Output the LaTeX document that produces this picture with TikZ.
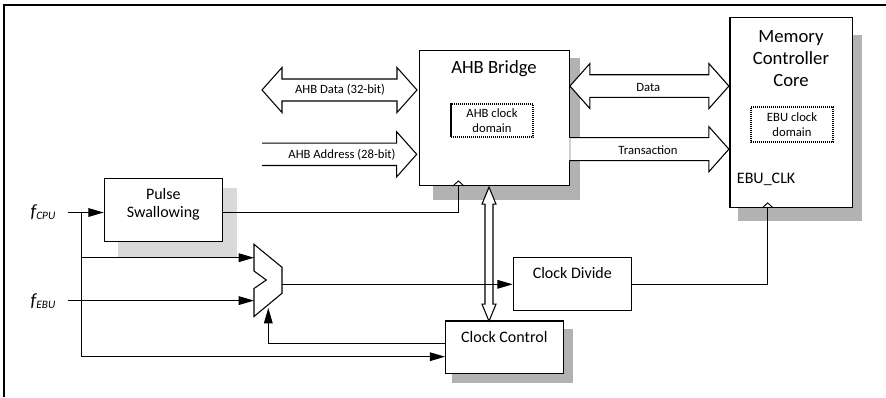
\documentclass[tikz,border=0pt]{standalone}
\usepackage{fontspec}
\setmainfont{Carlito}
\usepackage{tikz}
\usetikzlibrary{arrows.meta,calc,backgrounds}
\definecolor{shadowdark}{HTML}{B2B2B2}
\definecolor{shadowlite}{HTML}{D9D9D9}

\begin{document}
\begin{tikzpicture}[
  x=0.75pt, y=-0.75pt,
  blk/.style={draw, fill=white, line width=0.9pt, inner sep=0pt},
  dom/.style={draw, fill=white, line width=1.5pt, dash pattern=on 1pt off 0.5pt, minimum width=62pt, minimum height=25pt, align=center, font=\fontsize{9.5}{11.25}\selectfont, inner sep=0pt},
  ttl/.style={font=\fontsize{14}{16.5}\selectfont, align=center, inner sep=0pt},
  sub/.style={font=\fontsize{12}{13.2}\selectfont, align=center, inner sep=0pt},
  buslbl/.style={font=\fontsize{9.5}{11}\selectfont, inner sep=0pt},
  freq/.style={font=\fontsize{14}{16}\selectfont\itshape, inner sep=0pt},
  sig/.style={-{Triangle[length=11.5pt,width=6.5pt]}, line width=0.8pt},
  wire/.style={line width=0.8pt},
  hollow/.style={draw, fill=white, line width=0.8pt, line join=miter},
  clk/.style={line width=0.7pt},
]
\useasboundingbox (0,0) rectangle (886,397);
\draw[line width=1pt] (4,397) |- (886,5);

% blocks
\node[blk, minimum width=112.5pt, minimum height=101pt] (ahb) at (494.3,118) {};
\node[blk, minimum width=92pt, minimum height=142.5pt] (mem) at (791.3,112.3) {};
\node[blk, minimum width=88.8pt, minimum height=47.5pt] (pulse) at (163.5,210) {};
\node[blk, minimum width=88.8pt, minimum height=39.2pt] (div) at (572.5,284) {};
\node[blk, minimum width=88.2pt, minimum height=39.2pt] (ctrl) at (504.5,347.2) {};
\node[dom] (ahbdom) at (492,120.7) {AHB clock\\domain};
\node[dom, minimum height=25.8pt] (ebudom) at (792,124.5) {EBU clock\\domain};

\node[ttl] (ahbttl) at (494,69) {AHB Bridge};
\node[ttl] (memttl) at (791,58.5) {Memory\\Controller\\Core};
\node[sub, anchor=west] (ebuclk) at (736.7,179.3) {EBU\_CLK};
\node[sub] (pulsettl) at (163.3,204.5) {Pulse\\Swallowing};
\node[sub] (divttl) at (572.3,273.3) {Clock Divide};
\node[sub] (ctrlttl) at (504.3,336.7) {Clock Control};

\begin{scope}[on background layer]
\foreach \n/\dx/\dy/\ex/\ey/\c in {ahb/14/14/10/8/shadowdark, mem/9/13.4/9/18/shadowdark, pulse/14/14.3/14/10/shadowlite, ctrl/6.6/9/9.4/9/shadowdark}
  \fill[\c] ($(\n.south west)+(\dx,\dy)$) rectangle ($(\n.north east)+(\ex,\ey)$);
\end{scope}

% buses
\coordinate (dataend) at (262,90);
\coordinate (addrend) at (262,154.3);
\draw[hollow] (dataend) -- ++(20,-22.5) -- ++(0,11.5) -- ++(115,0) -- ++(0,-11.5) -- ++(20,22.5) -- ++(-20,22.5) -- ++(0,-11.5) -- ++(-115,0) -- ++(0,11.5) -- cycle;
\node[buslbl] (datalbl) at (340,90) {AHB Data (32-bit)};
\draw[hollow] ($(addrend)+(0,-11.2)$) -- ++(134.7,0) -- ++(0,-11.3) -- ++(20,22.5) -- ++(-20,22.5) -- ++(0,-11.3) -- ++(-134.7,0);
\node[buslbl] (addrlbl) at (342,154.3) {AHB Address (28-bit)};
\draw[hollow] ($(ahb.north east)+(0,36)$) -- ++(20,-22.5) -- ++(0,11.2) -- ++(119,0) -- ++(0,-11.2) -- ++(20,22.5) -- ++(-20,22.5) -- ++(0,-11.2) -- ++(-119,0) -- ++(0,11.2) -- cycle;
\node[buslbl] (datacore) at (648.3,87) {Data};
\draw[hollow] ($(ahb.north east)+(-0.6,87.6)$) -- ++(139.6,0) -- ++(0,-11) -- ++(20,22.5) -- ++(-20,22.5) -- ++(0,-11) -- ++(-139.6,0);
\draw[gray!35, line width=0.9pt] ($(ahb.north east)+(0,88)$) -- ++(0,22.2);
\node[buslbl] (translbl) at (648,150) {Transaction};
\draw[hollow] ($(ahb.south)+(-5.3,1.2)$) -- ++(7,17) -- ++(-3,0) -- ++(0,100) -- ++(3,0) -- ++(-7,17) -- ++(-7,-17) -- ++(3,0) -- ++(0,-100) -- ++(-3,0) -- cycle;

% clock mux
\coordinate (muxa) at (254,257.7);
\coordinate (muxb) at (254,301);
\coordinate (muxo) at (282,284.3);
\coordinate (muxs) at (268.3,308);
\draw[hollow] (254,244.3) -- (282,267.3) -- (282,293.3) -- (254,316.5) -- (254,288.5) -- (266.3,280) -- (254,271) -- cycle;

% clock inputs
\coordinate (ahbclk) at ($(ahb.south west)+(39.7,0)$);
\coordinate (memclk) at ($(mem.south west)+(38.3,0)$);
\draw[clk] ($(ahbclk)+(-5.5,0)$) -- ++(5.5,-5) -- ++(5.5,5);
\draw[clk] ($(memclk)+(-5.5,0)$) -- ++(5.5,-5) -- ++(5.5,5);

% signals
\node[freq] (fcpu) at (43,212) {f\raisebox{-2pt}{\fontsize{8.5}{10}\selectfont CPU}};
\node[freq] (febu) at (43,301) {f\raisebox{-2pt}{\fontsize{8.5}{10}\selectfont EBU}};
\coordinate (cpuin) at (68.3,212.5);
\coordinate (tap) at (81.7,212.5);
\coordinate (ebuin) at (68.3,300.6);
\draw[sig] (cpuin) -- (cpuin -| pulse.west);
\draw[sig] (tap) |- ($(ctrl.west)+(0,9.5)$);
\draw[sig] (tap |- muxa) -- (muxa);
\draw[sig] (ebuin) -- (muxb |- ebuin);
\draw[sig] (muxo) -- (muxo -| div.west);
\draw[sig] ($(ctrl.west)+(0,-3.9)$) -| (muxs);
\draw[wire] ($(pulse.east)+(0,2.3)$) -| (ahbclk);
\draw[wire] ($(div.east)+(0,0.4)$) -| (memclk);
\end{tikzpicture}
\end{document}
